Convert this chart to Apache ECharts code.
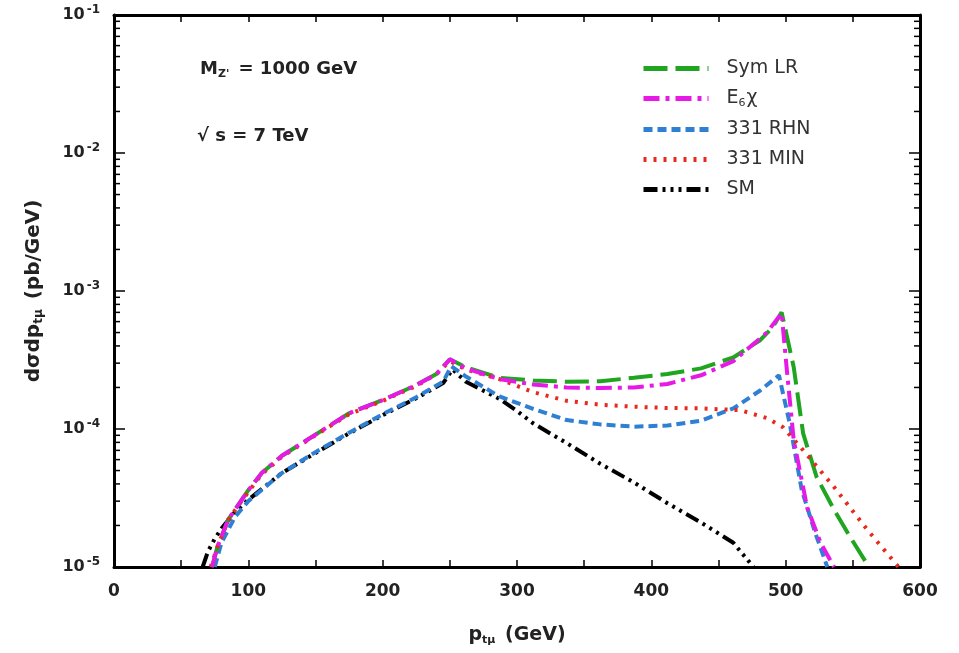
<!DOCTYPE html>
<html>
<head>
<meta charset="utf-8">
<script src="https://cdn.jsdelivr.net/npm/echarts@6/dist/echarts.min.js"></script>
<style>
html,body{margin:0;padding:0;background:#fff;}
#c{width:959px;height:653px;}
</style>
</head>
<body>
<div id="c"></div>
<script>
// ---- data ----
const seriesNames = ['Sym LR', 'E6χ', '331 RHN', '331 MIN', 'SM'];

const symLR_x = [73, 77, 85, 100, 110, 125, 150, 175, 200, 225, 240, 250, 262, 287, 312, 337, 362, 387, 412, 437, 461, 481, 490, 497, 506, 513, 523, 536, 548, 562];
const symLR_y = [1.0e-5, 1.4e-5, 2.2e-5, 3.6e-5, 4.8e-5, 6.4e-5, 9.1e-5, 1.3e-4, 1.62e-4, 2.08e-4, 2.5e-4, 3.2e-4, 2.8e-4, 2.35e-4, 2.25e-4, 2.2e-4, 2.22e-4, 2.35e-4, 2.5e-4, 2.75e-4, 3.3e-4, 4.4e-4, 5.4e-4, 7.0e-4, 2.8e-4, 9.3e-5, 4.5e-5, 2.6e-5, 1.65e-5, 1.0e-5];

const e6_x = [73, 77, 85, 100, 110, 125, 150, 175, 200, 225, 240, 250, 262, 287, 312, 337, 362, 387, 412, 437, 461, 486, 497, 501, 506, 516, 526, 536];
const e6_y = [1.0e-5, 1.4e-5, 2.2e-5, 3.6e-5, 4.8e-5, 6.4e-5, 9.1e-5, 1.3e-4, 1.62e-4, 2.08e-4, 2.5e-4, 3.2e-4, 2.75e-4, 2.3e-4, 2.1e-4, 2.0e-4, 1.98e-4, 2.0e-4, 2.12e-4, 2.45e-4, 3.1e-4, 5.0e-4, 6.9e-4, 2.6e-4, 8.3e-5, 2.7e-5, 1.5e-5, 1.0e-5];

const rhn_x = [75, 80, 90, 100, 125, 150, 175, 200, 225, 245, 251, 262, 287, 312, 337, 362, 387, 412, 437, 461, 481, 495, 503, 512, 522, 531];
const rhn_y = [1.0e-5, 1.5e-5, 2.3e-5, 3.0e-5, 4.8e-5, 6.8e-5, 9.4e-5, 1.28e-4, 1.7e-4, 2.2e-4, 2.85e-4, 2.4e-4, 1.72e-4, 1.4e-4, 1.16e-4, 1.08e-4, 1.04e-4, 1.06e-4, 1.15e-4, 1.41e-4, 1.9e-4, 2.45e-4, 1.1e-4, 3.6e-5, 1.77e-5, 1.0e-5];

const min_x = [72, 77, 85, 100, 110, 125, 150, 175, 200, 225, 240, 250, 262, 287, 312, 337, 362, 387, 412, 437, 466, 486, 498, 511, 536, 561, 584];
const min_y = [1.0e-5, 1.4e-5, 2.2e-5, 3.5e-5, 4.7e-5, 6.3e-5, 9.0e-5, 1.28e-4, 1.6e-4, 2.05e-4, 2.5e-4, 3.1e-4, 2.7e-4, 2.3e-4, 1.85e-4, 1.6e-4, 1.5e-4, 1.45e-4, 1.42e-4, 1.41e-4, 1.37e-4, 1.2e-4, 1.03e-4, 7.4e-5, 3.8e-5, 1.85e-5, 1.0e-5];

const sm_x = [66, 70, 75, 80, 90, 100, 125, 150, 175, 200, 225, 245, 252, 262, 287, 300, 312, 337, 362, 387, 412, 437, 461, 476];
const sm_y = [1.0e-5, 1.3e-5, 1.6e-5, 1.9e-5, 2.5e-5, 3.07e-5, 4.8e-5, 6.7e-5, 9.3e-5, 1.26e-4, 1.67e-4, 2.15e-4, 2.7e-4, 2.2e-4, 1.65e-4, 1.35e-4, 1.1e-4, 7.9e-5, 5.6e-5, 4.1e-5, 2.9e-5, 2.1e-5, 1.5e-5, 1.0e-5];

const xTicks = [0, 100, 200, 300, 400, 500, 600];
const yDecades = [1e-5, 1e-4, 1e-3, 1e-2, 1e-1];
const yMinorTicks = [];
for (let d = 0; d < yDecades.length - 1; d++) {
  for (let m = 2; m <= 9; m++) yMinorTicks.push(m * yDecades[d]);
}

function pairs(xs, ys) { return xs.map((x, i) => [x, ys[i]]); }

const FONT = 'DejaVu Sans';
const TXT = '#222';

const chart = echarts.init(document.getElementById('c'), null, {renderer: 'canvas'});

function mkLine(name, xs, ys, color, dash, z) {
  return {
    name: name, type: 'line', data: pairs(xs, ys),
    xAxisIndex: 0, yAxisIndex: 0,
    showSymbol: false, symbol: 'none', smooth: false, z: z,
    lineStyle: {color: color, width: 4, type: dash, cap: 'butt'},
    itemStyle: {color: color},
    emphasis: {disabled: true}
  };
}

const axisLineStyle = {color: '#000', width: 3};
const tickStyle = {color: '#000', width: 1.5};

const option = {
  animation: false,
  backgroundColor: '#fff',
  grid: {left: 114, right: 39, top: 15, bottom: 86, containLabel: false},
  legend: {
    data: seriesNames,
    orient: 'vertical',
    left: 636, top: 54,
    itemWidth: 65, itemHeight: 14, itemGap: 11,
    itemStyle: {opacity: 0, borderWidth: 0},
    lineStyle: {width: 5},
    formatter: function (n) {
      if (n === 'E6χ') return '{t|E}{s|6}{t|χ}';
      return '{t|' + n + '}';
    },
    textStyle: {
      fontFamily: FONT, fontSize: 19, color: '#333', padding: [0, 0, 0, 13],
      rich: {
        t: {fontFamily: FONT, fontSize: 19, color: '#333'},
        s: {fontFamily: FONT, fontSize: 11, color: '#333', padding: [10, 1, 0, 0]}
      }
    }
  },
  xAxis: [{
    type: 'value', min: 0, max: 600, interval: 100, position: 'bottom',
    name: '{b|p}{s|tμ}{b| (GeV)}', nameLocation: 'middle', nameGap: 57,
    nameTextStyle: {
      rich: {
        b: {fontFamily: FONT, fontWeight: 'bold', fontSize: 19, color: TXT},
        s: {fontFamily: FONT, fontWeight: 'bold', fontSize: 11, color: TXT, padding: [11, 3, 0, 0]}
      }
    },
    axisLine: {show: true, lineStyle: axisLineStyle, onZero: false},
    axisTick: {show: true, inside: true, length: 7, lineStyle: tickStyle},
    minorTick: {show: true, splitNumber: 2, length: 7, lineStyle: tickStyle},
    splitLine: {show: false},
    axisLabel: {margin: 16, fontFamily: FONT, fontWeight: 'bold', fontSize: 17, color: TXT,
      formatter: function (v) { return xTicks.indexOf(v) >= 0 ? String(v) : ''; }}
  }, {
    type: 'value', min: 0, max: 600, interval: 100, position: 'top',
    axisLine: {show: true, lineStyle: axisLineStyle, onZero: false},
    axisTick: {show: true, inside: true, length: 7, lineStyle: tickStyle},
    minorTick: {show: true, splitNumber: 2, length: 7, lineStyle: tickStyle},
    splitLine: {show: false},
    axisLabel: {show: false}
  }],
  yAxis: [{
    type: 'log', logBase: 10, min: 1e-5, max: 1e-1, position: 'left',
    name: '{b|dσdp}{s|tμ}{b| (pb/GeV)}', nameLocation: 'middle', nameGap: 69, nameRotate: 90,
    nameTextStyle: {
      rich: {
        b: {fontFamily: FONT, fontWeight: 'bold', fontSize: 20, color: TXT},
        s: {fontFamily: FONT, fontWeight: 'bold', fontSize: 12, color: TXT, padding: [11, 3, 0, 0]}
      }
    },
    axisLine: {show: true, lineStyle: axisLineStyle, onZero: false},
    axisTick: {show: true, inside: true, length: 11, lineStyle: tickStyle},
    splitLine: {show: false},
    axisLabel: {
      margin: 14,
      formatter: function (v) {
        const e = Math.round(Math.log10(v));
        return '{b|10}{e|' + e + '}';
      },
      rich: {
        b: {fontFamily: FONT, fontWeight: 'bold', fontSize: 16, color: TXT},
        e: {fontFamily: FONT, fontWeight: 'bold', fontSize: 12, color: TXT, padding: [0, 0, 10, 2]}
      }
    }
  }, {
    type: 'log', logBase: 10, min: 1e-5, max: 1e-1, position: 'right',
    axisLine: {show: true, lineStyle: axisLineStyle, onZero: false},
    axisTick: {show: true, inside: true, length: 11, lineStyle: tickStyle},
    splitLine: {show: false},
    axisLabel: {show: false}
  }],
  graphic: [
    {type: 'text', left: 200, top: 60, z: 100,
      style: {text: '{b|M}{s|Z\'}{b| = 1000 GeV}',
        rich: {
          b: {fontFamily: FONT, fontWeight: 'bold', fontSize: 18, fill: TXT},
          s: {fontFamily: FONT, fontWeight: 'bold', fontSize: 11, fill: TXT, padding: [11, 3, 0, 0]}
        }}},
    {type: 'text', left: 197, top: 127, z: 100,
      style: {text: '√ s = 7 TeV', fontFamily: FONT, fontWeight: 'bold', fontSize: 18, fill: TXT}}
  ],
  series: [
    mkLine('Sym LR', symLR_x, symLR_y, '#1fa51f', [24, 8], 3),
    mkLine('E6χ', e6_x, e6_y, '#e619e6', [16, 6, 4, 6], 5),
    mkLine('331 RHN', rhn_x, rhn_y, '#2f7fd2', [9, 5], 2),
    mkLine('331 MIN', min_x, min_y, '#e8291e', [3, 7], 4),
    mkLine('SM', sm_x, sm_y, '#000', [14, 5, 3, 5, 3, 5, 3, 5], 1),
    {
      name: 'minorTicks', type: 'custom', silent: true,
      xAxisIndex: 0, yAxisIndex: 0, z: 10,
      data: yMinorTicks.map(v => [0, v]),
      renderItem: function (params, api) {
        const v = api.value(1);
        const pL = api.coord([0, v]);
        const pR = api.coord([600, v]);
        return {type: 'group', children: [
          {type: 'line', shape: {x1: pL[0], y1: pL[1], x2: pL[0] + 6, y2: pL[1]}, style: {stroke: '#000', lineWidth: 1.5}},
          {type: 'line', shape: {x1: pR[0], y1: pR[1], x2: pR[0] - 6, y2: pR[1]}, style: {stroke: '#000', lineWidth: 1.5}}
        ]};
      }
    }
  ]
};
chart.setOption(option);
</script>
</body>
</html>
